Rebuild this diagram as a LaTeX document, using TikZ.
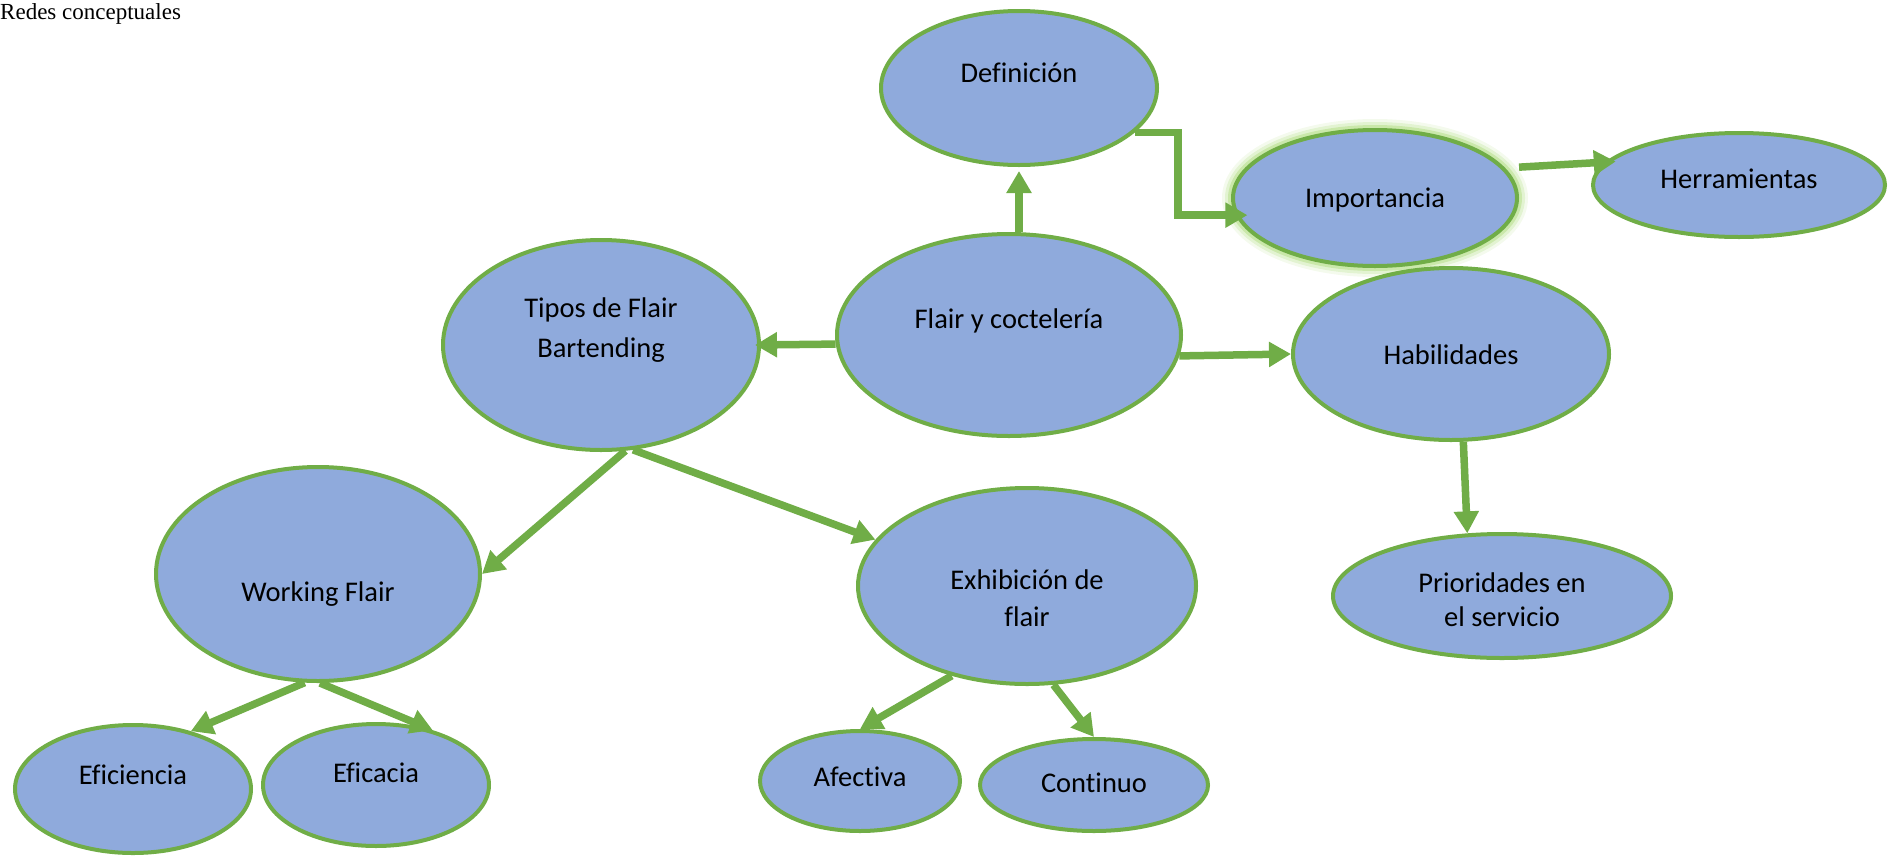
\documentclass[tikz,border=0pt]{standalone}
\usepackage{fontspec}
\setmainfont[Ligatures=NoCommon]{Carlito}
\newfontfamily\titlefont{Liberation Serif}
\usetikzlibrary{shapes.geometric,arrows.meta}

\definecolor{flairblue}{RGB}{143,170,220}
\definecolor{flairgreen}{RGB}{112,173,71}
\definecolor{glowgreen}{RGB}{146,208,80}

\tikzset{
	bubble/.style={ellipse, draw=flairgreen, line width=4pt, fill=flairblue, inner sep=0pt},
	word/.style={font=\fontsize{28.5}{36}\selectfont, align=center, inner sep=0pt},
	link/.style={draw=flairgreen, line width=7.5pt, -{Triangle[length=22pt,width=24pt]}},
	glow/.style={preaction={draw=glowgreen, line width=22pt, draw opacity=0.1},
		preaction={draw=glowgreen, line width=16pt, draw opacity=0.18},
		preaction={draw=glowgreen, line width=10pt, draw opacity=0.3}}
}

\begin{document}
\begin{tikzpicture}[x=1pt, y=-1pt]
	\useasboundingbox (0,0) rectangle (1895,857);
	\node[anchor=base west, inner sep=0pt, font=\titlefont\fontsize{23}{28}\selectfont] (title) at (0,19) {Redes conceptuales};

	% ellipses: name/x/y/width/height
	\node[bubble, glow, minimum width=284, minimum height=136] (impor) at (1375,198) {};
	\foreach \n/\x/\y/\w/\h in {defin/1019/88/276/154, herra/1739/185/292/104,
		flair/1009/335/344/202, tipos/601/345/316/210, habil/1451/354/316/172,
		prior/1502/596/338/124, work/318/574/324/214, exhib/1027/586/338/196,
		effy/133/789/236/128, effc/376/785/226/122, afec/860/781/200/100, cont/1094/785/228/92}
		\node[bubble, minimum width=\w, minimum height=\h] (\n) at (\x,\y) {};

	% texts
	\node[word] (defin-t) at ([yshift=15pt]defin.center) {Definición};
	\node[word] (impor-t) at ([yshift=-2pt]impor.center) {Importancia};
	\node[word] (herra-t) at ([yshift=6pt]herra.center) {Herramientas};
	\node[word] (flair-t) at ([yshift=14pt]flair.center) {Flair y coctelería};
	\node[word, font=\fontsize{28.5}{40}\selectfont] (tipos-t) at ([yshift=15pt]tipos.center) {Tipos de Flair\\Bartending};
	\node[word] (habil-t) at ([yshift=-1pt]habil.center) {Habilidades};
	\node[word, font=\fontsize{28.5}{34}\selectfont] (prior-t) at ([yshift=-4pt]prior.center) {Prioridades en\\el servicio};
	\node[word] (work-t) at ([yshift=-20pt]work.center) {Working Flair};
	\node[word, font=\fontsize{28.5}{37}\selectfont] (exhib-t) at ([yshift=-12pt]exhib.center) {Exhibición de\\flair};
	\node[word] (effy-t) at ([yshift=14pt]effy.center) {Eficiencia};
	\node[word] (effc-t) at ([yshift=12pt]effc.center) {Eficacia};
	\node[word] (afec-t) at ([yshift=4pt]afec.center) {Afectiva};
	\node[word] (cont-t) at ([yshift=2pt]cont.center) {Continuo};

	% arrows
	\draw[link, shorten >=4pt] (flair.north -| defin.south) -- (defin.south);
	\draw[link] (defin.-21) -- ++(43,0) |- ([xshift=12pt]impor.187);
	\draw[link, shorten <=14pt] (impor.13) -- ([xshift=10pt]herra.170);
	\draw[link] (flair.183) -- ([xshift=-6pt]tipos.east);
	\draw[link] (flair.-7) -- (habil.west);
	\draw[link] (habil.-82) -- (prior.119);
	\draw[link] (tipos.-77) -- (work.east);
	\draw[link] (tipos.-73) -- (exhib.163);
	\draw[link] (work.-97) -- (effy.45);
	\draw[link] (work.-89) -- (effc.44);
	\draw[link] (exhib.-130) -- (afec.north);
	\draw[link] (exhib.-75) -- (cont.north);
\end{tikzpicture}
\end{document}
